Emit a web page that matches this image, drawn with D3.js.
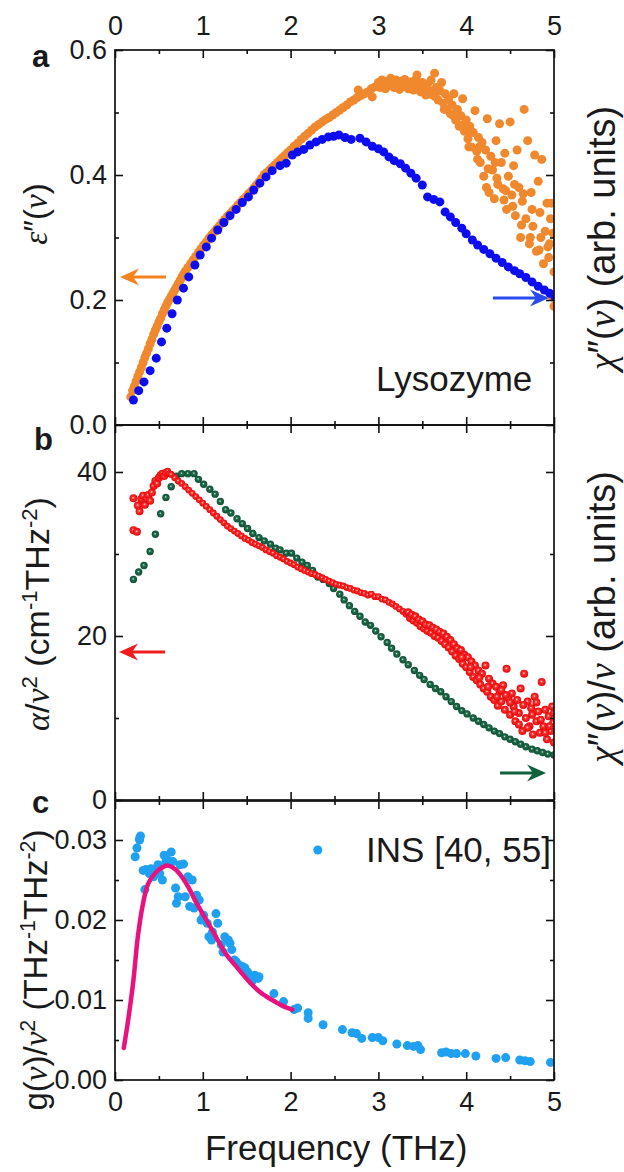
<!DOCTYPE html>
<html>
<head>
<meta charset="utf-8">
<script src="https://cdn.jsdelivr.net/npm/d3@7"></script>
<style>
body { margin: 0; background: #fff; }
text { font-family: "Liberation Sans", Arial, sans-serif; fill: #1a1a1a; }
</style>
</head>
<body>
<div id="chart"></div>
<script>

///// DATA /////

var freqTicks = [0, 1, 2, 3, 4, 5],
	freqMinor = [0.5, 1.5, 2.5, 3.5, 4.5];
var epsTicks = [0, 0.2, 0.4, 0.6],
	epsMinor = [0.1, 0.3, 0.5];
var alphaTicks = [0, 20, 40],
	alphaMinor = [10, 30];
var gTicks = [0, 0.01, 0.02, 0.03],
	gMinor = [0.005, 0.015, 0.025];

// panel a: dielectric loss (orange) and susceptibility (blue, arb. units)
var epsLoss = [
	[0.18,0.045],[0.20,0.055],[0.22,0.062],[0.24,0.070],[0.26,0.078],[0.28,0.085],[0.30,0.092],[0.32,0.100],
	[0.34,0.108],[0.36,0.115],[0.38,0.122],[0.40,0.130],[0.42,0.137],[0.44,0.145],[0.46,0.152],[0.48,0.158],
	[0.50,0.165],[0.52,0.171],[0.54,0.178],[0.56,0.184],[0.58,0.190],[0.60,0.196],[0.62,0.201],[0.64,0.206],
	[0.66,0.211],[0.68,0.216],[0.70,0.221],[0.72,0.226],[0.74,0.231],[0.76,0.236],[0.78,0.241],[0.80,0.246],
	[0.83,0.252],[0.86,0.258],[0.89,0.264],[0.92,0.270],[0.95,0.276],[0.98,0.282],[1.01,0.288],[1.04,0.293],
	[1.07,0.299],[1.10,0.304],[1.13,0.309],[1.16,0.314],[1.19,0.319],[1.22,0.324],[1.25,0.329],[1.28,0.334],
	[1.31,0.338],[1.34,0.343],[1.37,0.347],[1.40,0.352],[1.43,0.356],[1.46,0.361],[1.49,0.365],[1.52,0.370],
	[1.55,0.374],[1.58,0.379],[1.61,0.384],[1.64,0.389],[1.67,0.395],[1.70,0.401],[1.73,0.404],[1.76,0.408],
	[1.79,0.412],[1.82,0.416],[1.85,0.420],[1.88,0.424],[1.91,0.428],[1.94,0.432],[1.97,0.436],[2.00,0.440],
	[2.04,0.446],[2.08,0.451],[2.12,0.457],[2.16,0.462],[2.20,0.467],[2.24,0.472],[2.28,0.477],[2.32,0.481],
	[2.36,0.485],[2.40,0.489],[2.44,0.492],[2.48,0.496],[2.52,0.500],[2.56,0.504],[2.60,0.508],[2.64,0.512],
	[2.68,0.517],[2.72,0.520],[2.76,0.524],[2.77,0.536],[2.80,0.527],[2.84,0.530],[2.88,0.533],[2.92,0.538],
	[2.93,0.525],[2.96,0.541],
	[3.00,0.548],[3.02,0.540],[3.04,0.552],[3.06,0.545],[3.08,0.538],[3.10,0.550],[3.12,0.543],[3.14,0.555],
	[3.16,0.547],[3.18,0.540],[3.20,0.552],[3.22,0.545],[3.24,0.537],[3.26,0.550],[3.28,0.542],[3.30,0.553],
	[3.32,0.546],[3.34,0.538],[3.36,0.549],[3.38,0.543],[3.40,0.536],[3.42,0.552],[3.44,0.560],[3.46,0.545],
	[3.48,0.533],[3.50,0.548],[3.52,0.540],[3.54,0.528],[3.56,0.545],[3.58,0.535],[3.60,0.552],[3.62,0.528],
	[3.64,0.563],[3.66,0.540],[3.68,0.520],[3.70,0.535],[3.72,0.548],[3.74,0.515],[3.76,0.530],[3.78,0.505],
	[3.80,0.522],[3.82,0.498],[3.84,0.512],[3.86,0.530],[3.88,0.488],[3.90,0.505],[3.92,0.478],[3.94,0.495],
	[3.96,0.522],[3.98,0.470],[4.00,0.488],[4.02,0.458],[4.04,0.478],[4.06,0.445],[4.08,0.468],[4.10,0.503],
	[4.12,0.438],[4.14,0.460],[4.16,0.420],[4.18,0.452],[4.20,0.398],[4.22,0.440],[4.24,0.490],[4.26,0.372],
	[4.28,0.430],[4.30,0.408],[4.32,0.362],[4.34,0.455],[4.36,0.385],[4.38,0.482],[4.40,0.420],[4.42,0.378],
	[4.44,0.435],[4.46,0.345],[4.48,0.398],[4.50,0.485],[4.52,0.368],[4.54,0.415],[4.56,0.335],[4.58,0.440],
	[4.60,0.380],[4.62,0.300],[4.64,0.358],[4.66,0.505],[4.68,0.330],[4.70,0.455],[4.72,0.290],[4.74,0.372],
	[4.76,0.318],[4.78,0.432],[4.80,0.278],[4.82,0.390],[4.84,0.340],[4.86,0.425],[4.88,0.258],[4.90,0.310],
	[4.92,0.355],[4.94,0.268],[4.96,0.330],[4.98,0.205],[5.00,0.245],[4.99,0.307],[4.97,0.355],[5.00,0.190],
	[4.95,0.290],[3.65,0.525],[3.75,0.505],[3.85,0.495],[3.95,0.480],[4.05,0.470],[4.15,0.445],[4.25,0.410],
	[4.35,0.395],[4.45,0.375],[4.55,0.385],[4.65,0.370],[4.75,0.345],[4.85,0.300],[4.93,0.285],[4.03,0.445],
	[4.13,0.425],[4.23,0.380],[4.33,0.420],[4.43,0.360],[4.53,0.350],[4.63,0.320],[4.73,0.300],[4.83,0.280]
];
var chiA = [
	[0.21,0.040],[0.27,0.055],[0.33,0.069],[0.40,0.087],[0.47,0.107],[0.53,0.133],[0.59,0.155],[0.65,0.178],
	[0.71,0.200],[0.78,0.219],[0.84,0.237],[0.91,0.256],[0.97,0.272],[1.04,0.285],[1.10,0.299],[1.17,0.312],
	[1.24,0.324],[1.31,0.335],[1.38,0.345],[1.45,0.356],[1.52,0.365],[1.58,0.376],[1.65,0.387],[1.72,0.397],
	[1.79,0.407],[1.88,0.415],[1.95,0.419],[2.02,0.432],[2.08,0.437],[2.15,0.441],[2.22,0.448],[2.29,0.453],
	[2.36,0.457],[2.43,0.461],[2.49,0.462],[2.55,0.464],[2.62,0.460],[2.69,0.457],[2.79,0.459],[2.86,0.453],
	[2.93,0.446],[3.00,0.442],[3.06,0.437],[3.12,0.429],[3.18,0.423],[3.25,0.418],[3.31,0.411],[3.37,0.403],
	[3.43,0.395],[3.50,0.384],[3.56,0.365],[3.63,0.361],[3.70,0.357],[3.76,0.341],[3.82,0.333],[3.88,0.324],
	[3.95,0.315],[4.00,0.306],[4.07,0.296],[4.13,0.288],[4.20,0.281],[4.27,0.274],[4.34,0.267],[4.41,0.260],
	[4.48,0.253],[4.55,0.247],[4.61,0.242],[4.68,0.236],[4.75,0.229],[4.82,0.222],[4.89,0.216],[4.95,0.211],
	[5.01,0.205]
];

// panel b: absorption / nu^2 (red) and chi''/nu (green, arb. units)
var alphaNu = [
	[0.21,32.9],[0.25,32.7],[0.21,36.8],[0.26,35.9],[0.28,35.2],[0.30,36.7],[0.32,37.1],[0.34,36.0],
	[0.36,36.8],[0.38,37.2],[0.40,36.5],[0.42,37.5],[0.44,38.3],[0.46,38.9],[0.48,38.6],[0.50,39.3],
	[0.52,39.6],[0.54,39.8],[0.56,39.5],[0.58,39.9],[0.60,40.1],[0.62,39.8],
	[0.64,39.7],[0.68,39.3],[0.72,38.9],[0.76,38.6],[0.80,38.2],[0.84,37.8],[0.88,37.4],[0.92,37.0],
	[0.96,36.6],[1.00,36.2],[1.04,35.8],[1.08,35.4],[1.12,35.0],[1.16,34.6],[1.20,34.2],[1.24,33.8],
	[1.28,33.4],[1.32,33.1],[1.36,32.8],[1.40,32.5],[1.44,32.2],[1.48,31.9],[1.52,31.7],[1.56,31.4],
	[1.60,31.2],[1.64,31.0],[1.68,30.8],[1.72,30.5],[1.76,30.3],[1.80,30.1],[1.84,29.8],[1.88,29.6],
	[1.92,29.4],[1.96,29.1],[2.00,28.9],[2.04,28.7],[2.08,28.4],[2.12,28.2],[2.16,28.0],[2.20,27.8],
	[2.24,27.6],[2.28,27.5],[2.32,27.3],[2.36,27.1],[2.40,26.9],[2.44,26.7],[2.48,26.5],[2.52,26.3],
	[2.56,26.2],[2.60,26.1],[2.64,25.9],[2.68,25.8],[2.72,25.6],[2.76,25.5],[2.80,25.3],[2.84,25.2],
	[2.88,25.0],[2.92,25.1],[2.96,24.8],[3.00,24.8],[3.04,24.5],[3.08,24.4],[3.12,24.1],[3.16,23.9],
	[3.20,23.6],[3.24,23.3],[3.28,23.0],[3.32,22.7],
	[3.34,22.9],[3.36,22.2],[3.38,22.6],[3.40,21.9],[3.42,22.4],[3.44,21.6],[3.46,22.0],[3.48,21.2],
	[3.50,21.8],[3.52,20.9],[3.54,21.4],[3.56,20.6],[3.58,21.3],[3.60,20.4],[3.62,21.0],[3.64,20.0],
	[3.66,20.8],[3.68,19.8],[3.70,20.5],[3.72,19.4],[3.74,20.3],[3.76,19.0],[3.78,19.9],[3.80,18.6],
	[3.82,19.5],[3.84,18.1],[3.86,19.0],[3.88,17.6],[3.90,18.5],[3.92,17.2],[3.94,18.3],[3.96,16.6],
	[3.98,17.7],[4.00,16.2],[4.02,17.4],[4.04,15.6],[4.06,16.9],[4.08,15.0],[4.10,16.4],[4.12,14.6],
	[4.14,15.8],[4.16,14.1],[4.18,15.4],[4.20,13.6],[4.22,16.4],[4.24,13.2],[4.26,14.8],[4.28,12.6],
	[4.30,14.2],[4.32,12.2],[4.34,13.8],[4.36,11.5],[4.38,13.2],[4.40,12.0],[4.42,14.0],[4.44,11.0],
	[4.46,16.0],[4.48,12.4],[4.50,10.4],[4.52,13.0],[4.54,11.4],[4.56,9.6],[4.58,12.2],[4.60,10.6],
	[4.62,13.6],[4.64,8.4],[4.66,15.4],[4.68,10.0],[4.70,12.0],[4.72,9.0],[4.74,11.2],[4.76,8.0],
	[4.78,12.6],[4.80,9.6],[4.82,10.8],[4.84,8.2],[4.86,14.4],[4.88,9.0],[4.90,11.0],[4.92,7.4],
	[4.94,10.2],[4.96,8.4],[4.98,11.4],[5.00,7.0],[4.99,9.4],[5.00,10.6],
	[3.95,17.4],[4.05,16.2],[4.15,14.9],[4.25,13.8],[4.35,12.6],[4.45,12.8],[4.55,10.8],[4.65,11.6],
	[4.75,10.4],[4.85,9.8],[4.95,9.0],[4.40,13.4],[4.50,11.9],[4.60,9.2],[4.70,8.8],[4.80,11.9],[4.90,8.2]
];
var chiNu = [
	[0.21,26.9],[0.27,27.8],[0.33,28.6],[0.40,30.3],[0.46,32.4],[0.52,34.9],[0.58,36.9],[0.64,38.2],
	[0.70,39.5],[0.76,39.8],[0.83,39.8],[0.90,39.8],[0.95,39.1],[1.01,38.5],[1.08,37.9],[1.14,37.3],
	[1.20,36.4],[1.26,35.4],[1.32,35.0],[1.39,34.3],[1.45,33.7],[1.51,33.1],[1.57,32.5],[1.64,32.0],
	[1.70,31.6],[1.77,31.2],[1.83,30.7],[1.88,30.5],[1.95,30.1],[2.01,30.1],[2.07,29.5],[2.13,29.0],
	[2.19,28.6],[2.25,28.0],[2.31,27.2],[2.37,26.9],[2.44,26.4],[2.49,25.8],[2.56,25.1],[2.61,24.4],
	[2.67,23.7],[2.73,23.0],[2.79,22.4],[2.85,21.7],[2.91,21.3],[2.97,20.6],[3.03,19.9],[3.10,19.2],
	[3.15,18.5],[3.21,17.8],[3.28,17.1],[3.34,16.5],[3.41,15.8],[3.47,15.2],[3.52,14.7],[3.59,14.1],
	[3.65,13.6],[3.71,13.2],[3.77,12.6],[3.83,12.0],[3.89,11.4],[3.95,10.9],[4.01,10.5],[4.08,10.0],
	[4.14,9.6],[4.20,9.2],[4.26,8.8],[4.32,8.4],[4.38,8.1],[4.44,7.7],[4.50,7.4],[4.56,7.1],
	[4.62,6.8],[4.68,6.5],[4.75,6.2],[4.81,6.0],[4.87,5.8],[4.93,5.6],[5.00,5.5]
];

// panel c: INS density of states / nu^2 and fit
var insDos = [
	[0.23,0.0279],[0.25,0.0290],[0.28,0.0300],[0.29,0.0305],[0.28,0.0302],[0.34,0.0238],[0.32,0.0262],[0.35,0.0263],
	[0.39,0.0258],[0.41,0.0264],[0.44,0.0254],[0.47,0.0260],[0.49,0.0269],[0.51,0.0258],[0.54,0.0250],[0.56,0.0281],
	[0.58,0.0273],[0.60,0.0275],[0.64,0.0285],[0.66,0.0273],[0.69,0.0240],[0.70,0.0221],[0.72,0.0229],[0.74,0.0269],
	[0.78,0.0270],[0.80,0.0229],[0.83,0.0254],[0.85,0.0217],[0.88,0.0250],[0.90,0.0215],[0.93,0.0231],[0.96,0.0225],
	[0.98,0.0200],[1.01,0.0206],[1.05,0.0196],[1.07,0.0179],[1.10,0.0175],[1.11,0.0185],[1.15,0.0208],[1.17,0.0196],
	[1.21,0.0169],[1.23,0.0160],[1.25,0.0179],[1.29,0.0175],[1.31,0.0171],[1.33,0.0163],[1.36,0.0150],[1.38,0.0148],
	[1.41,0.0144],[1.45,0.0142],[1.48,0.0140],[1.51,0.0135],[1.54,0.0129],[1.56,0.0123],[1.59,0.0131],[1.63,0.0127],
	[1.64,0.0129],[1.81,0.0108],[1.92,0.0098],[2.04,0.0088],[2.08,0.0090],[2.20,0.0084],[2.20,0.0077],[2.37,0.0069],
	[2.59,0.0063],[2.70,0.0059],[2.75,0.0058],[2.81,0.0052],[2.93,0.0053],[3.00,0.0053],[3.05,0.0049],[3.21,0.0045],
	[3.33,0.0043],[3.40,0.0042],[3.45,0.0043],[3.48,0.0038],[3.72,0.0034],[3.77,0.0035],[3.83,0.0033],[3.89,0.0033],
	[3.99,0.0033],[4.11,0.0030],[4.34,0.0027],[4.45,0.0028],[4.61,0.0025],[4.67,0.0024],[4.73,0.0023],[4.96,0.0022]
];
var dosFit = [
	[0.10,0.0040],[0.15,0.0075],[0.21,0.0125],[0.26,0.0179],[0.32,0.0221],[0.38,0.0246],[0.47,0.0260],[0.56,0.0267],
	[0.60,0.0268],[0.69,0.0263],[0.81,0.0246],[0.92,0.0223],[1.04,0.0200],[1.15,0.0179],[1.26,0.0158],[1.38,0.0142],
	[1.51,0.0125],[1.65,0.0110],[1.79,0.0100],[1.92,0.0092],[2.02,0.0088]
];

///// SCALES /////

var svg = d3.select('#chart').append('svg')
	.attr('width', 624)
	.attr('height', 1172);

var x = d3.scaleLinear().domain([0, 5]).range([115, 554]);
var yA = d3.scaleLinear().domain([0, 0.6]).range([425, 50]);
var yA2 = d3.scaleLinear().domain([0, 0.6]).range([425, 50]); // arb. units
var yB = d3.scaleLinear().domain([0, 45.73]).range([800, 425]);
var yB2 = d3.scaleLinear().domain([0, 45.73]).range([800, 425]); // arb. units
var yC = d3.scaleLinear().domain([0, 0.034875]).range([1080, 801]);

var defs = svg.append('defs');
function sphere(id, hi, mid, edge) {
	var gr = defs.append('radialGradient').attr('id', id)
		.attr('cx', '50%').attr('cy', '50%').attr('r', '55%')
		.attr('fx', '45%').attr('fy', '42%');
	gr.append('stop').attr('offset', '0%').attr('stop-color', hi);
	gr.append('stop').attr('offset', '30%').attr('stop-color', mid);
	gr.append('stop').attr('offset', '100%').attr('stop-color', edge);
}
sphere('redBall', '#ffe0e0', '#f33', '#e00000');
sphere('greenBall', '#d8efe4', '#1f6e4c', '#0f4a31');

function clip(id, y) {
	defs.append('clipPath').attr('id', id).append('rect')
		.attr('x', x(0)).attr('y', y.range()[1])
		.attr('width', x(5) - x(0)).attr('height', y.range()[0] - y.range()[1]);
}
clip('clipA', yA); clip('clipB', yB); clip('clipC', yC);

///// AXES /////

function axis(gen, tr, values, size, fmt, pad) {
	var g = svg.append('g').attr('transform', tr)
		.call(gen.tickValues(values).tickSize(-size).tickSizeOuter(0)
			.tickPadding(pad || 8).tickFormat(fmt || ''));
	g.select('.domain').remove();
	g.selectAll('line').attr('stroke', '#111').attr('stroke-width', 1.6);
	g.selectAll('text').style('font-size', '27px').attr('fill', '#1a1a1a');
	return g;
}

function panelAxes(y, major, minor, fmt, topLabels, bottomLabels) {
	var top = y.range()[1], bot = y.range()[0];
	axis(d3.axisLeft(y), 'translate(' + x(0) + ',0)', major, 8, fmt, 8);
	axis(d3.axisLeft(y), 'translate(' + x(0) + ',0)', minor, 4);
	axis(d3.axisRight(y), 'translate(' + x(5) + ',0)', major, 8);
	axis(d3.axisRight(y), 'translate(' + x(5) + ',0)', minor, 4);
	axis(d3.axisTop(x), 'translate(0,' + top + ')', freqTicks, 8, topLabels ? d3.format('d') : '', 15);
	axis(d3.axisTop(x), 'translate(0,' + top + ')', freqMinor, 4);
	axis(d3.axisBottom(x), 'translate(0,' + bot + ')', freqTicks, 8, bottomLabels ? d3.format('d') : '', 12);
	axis(d3.axisBottom(x), 'translate(0,' + bot + ')', freqMinor, 4);
	svg.append('rect')
		.attr('x', x(0)).attr('y', top)
		.attr('width', x(5) - x(0)).attr('height', bot - top)
		.attr('fill', 'none').attr('stroke', '#111').attr('stroke-width', 1.7);
}

///// PANEL A /////
var ga = svg.append('g').attr('clip-path', 'url(#clipA)');
ga.selectAll('.eps').data(epsLoss).enter().append('circle')
	.attr('cx', d => x(d[0])).attr('cy', d => yA(d[1])).attr('r', 4.5)
	.attr('fill', '#f0882e');
ga.selectAll('.chi').data(chiA).enter().append('circle')
	.attr('cx', d => x(d[0])).attr('cy', d => yA2(d[1])).attr('r', 4.5)
	.attr('fill', '#0d0df0');
panelAxes(yA, epsTicks, epsMinor, d3.format('.1f'), true, false);

///// PANEL B /////
var gb = svg.append('g').attr('clip-path', 'url(#clipB)');
gb.selectAll('.chinu').data(chiNu).enter().append('circle')
	.attr('cx', d => x(d[0])).attr('cy', d => yB2(d[1])).attr('r', 3.7)
	.attr('fill', 'url(#greenBall)');
gb.selectAll('.alpha').data(alphaNu).enter().append('circle')
	.attr('cx', d => x(d[0])).attr('cy', d => yB(d[1])).attr('r', d => d[0] > 3.3 || d[0] < 0.6 ? 4 : 3.4)
	.attr('fill', 'url(#redBall)');
panelAxes(yB, alphaTicks, alphaMinor, d3.format('d'), false, false);

///// PANEL C /////
var gc = svg.append('g').attr('clip-path', 'url(#clipC)');
gc.selectAll('.ins').data(insDos).enter().append('circle')
	.attr('cx', d => x(d[0])).attr('cy', d => yC(d[1])).attr('r', 4.5)
	.attr('fill', '#1fa0f0');
gc.append('path').datum(dosFit)
	.attr('d', d3.line().x(d => x(d[0])).y(d => yC(d[1])).curve(d3.curveCatmullRom))
	.attr('fill', 'none').attr('stroke', '#e8127f').attr('stroke-width', 4.5)
	.attr('stroke-linecap', 'round');
panelAxes(yC, gTicks, gMinor, d3.format('.2f'), false, true);

///// LABELS /////
var SERIF = '"Liberation Serif", "Times New Roman", serif';
function label(tx, ty, rot, size, parts, anchor) {
	var t = svg.append('text')
		.attr('transform', 'translate(' + tx + ',' + ty + ')' + (rot ? ' rotate(' + rot + ')' : ''))
		.attr('text-anchor', anchor || 'middle')
		.style('font-size', size + 'px');
	parts.forEach(function(p) {
		var s = t.append('tspan').text(p[0]);
		if (p[1] === 'i') s.style('font-family', SERIF).style('font-style', 'italic');
		if (p[1] === 'sup') s.attr('baseline-shift', 'super').style('font-size', '65%');
	});
	return t;
}

label(47, 214, -90, 33, [['ε', 'i'], ['\u2033'], ['('], ['ν', 'i'], [')']]);
label(615, 238, -90, 38, [['χ', 'i'], ['\u2033'], ['('], ['ν', 'i'], [') (arb. units)']]);
label(49, 614, -90, 34, [['α', 'i'], ['/'], ['ν', 'i'], ['2', 'sup'], [' (cm'], ['-1', 'sup'], ['THz'], ['-2', 'sup'], [')']]);
label(615, 617, -90, 38, [['χ', 'i'], ['\u2033'], ['('], ['ν', 'i'], [')/'], ['ν', 'i'], ['  (arb. units)']]);
label(47, 970, -90, 33, [['g'], ['('], ['ν', 'i'], [')/'], ['ν', 'i'], ['2', 'sup'], [' (THz'], ['-1', 'sup'], ['THz'], ['-2', 'sup'], [')']]);
label(x(2.52), 1160, 0, 35, [['Frequency (THz)']]);

label(376, 391, 0, 35, [['Lysozyme']], 'start');
label(32, 67, 0, 31, [['a']], 'start').style('font-weight', 'bold');
label(34, 450, 0, 31, [['b']], 'start').style('font-weight', 'bold');
label(32, 813, 0, 31, [['c']], 'start').style('font-weight', 'bold');

// legend panel c
svg.append('circle').attr('cx', x(2.31)).attr('cy', yC(0.02875)).attr('r', 4.5).attr('fill', '#1fa0f0');
label(x(2.86), yC(0.0272), 0, 35, [['INS [40, 55]']], 'start');

///// ARROWS /////
function arrow(x1, x2, y, color) {
	var dir = x2 > x1 ? 1 : -1;
	svg.append('line')
		.attr('x1', x1).attr('x2', x2 - dir * 6).attr('y1', y).attr('y2', y)
		.attr('stroke', color).attr('stroke-width', 2.8);
	svg.append('path')
		.attr('d', 'M' + x2 + ',' + y + 'L' + (x2 - dir * 19) + ',' + (y - 8.5) +
			'L' + (x2 - dir * 13) + ',' + y + 'L' + (x2 - dir * 19) + ',' + (y + 8.5) + 'Z')
		.attr('fill', color);
}
arrow(x(0.58), x(0.057), yA(0.2368), '#f58220');
arrow(x(4.305), x(4.943), yA(0.2032), '#2a4bf0');
arrow(x(0.57), x(0.046), yB(18.05), '#ee1c1c');
arrow(x(4.385), x(4.909), yB(3.29), '#11613f');

</script>
</body>
</html>
